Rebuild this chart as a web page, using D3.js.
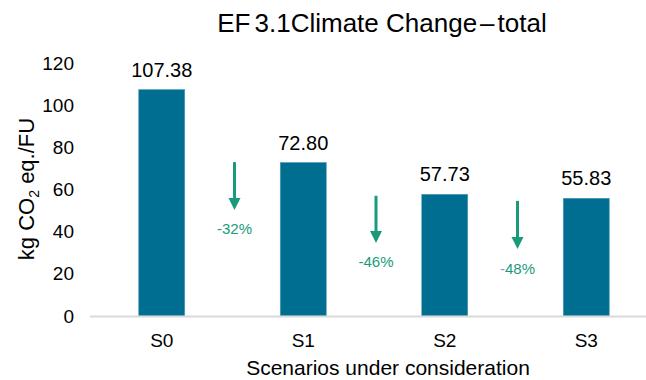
<!DOCTYPE html>
<html>
<head>
<meta charset="utf-8">
<script src="https://cdn.jsdelivr.net/npm/d3@7"></script>
<style>
  html, body { margin: 0; padding: 0; background: #fff; }
  svg { display: block; }
  text { font-family: "Liberation Sans", Arial, sans-serif; }
</style>
</head>
<body>
<svg id="chart" width="646" height="380"></svg>
<script>
// ---- data ----
const categories = ["S0", "S1", "S2", "S3"];
const values = [107.38, 72.80, 57.73, 55.83];
const valueLabels = ["107.38", "72.80", "57.73", "55.83"];
const yTicks = [0, 20, 40, 60, 80, 100, 120];
const reductionLabels = ["-32%", "-46%", "-48%"];
const arrowTop = [73, 57, 54.6];      // arrow start (data units)
const arrowTip = [50.3, 34.6, 31.8];  // arrow tip (data units)
const labelAt = [38.9, 23.2, 19.9];   // label baseline (data units)
const titleParts = ["EF", "3.1Climate Change", "\u2013", "total"];
const xTitle = "Scenarios under consideration";

// ---- layout ----
const svg = d3.select("#chart");
const barColor = "#006e91";
const green = "#1b9a7b";

const x = d3.scaleBand()
  .domain(categories)
  .range([91, 657])
  .paddingInner(0.675)
  .paddingOuter(0.3375)
  .align(0.5);

const y = d3.scaleLinear().domain([0, 120]).range([316, 63]);

// title
const title = svg.append("text")
  .attr("x", 382).attr("y", 32)
  .attr("text-anchor", "middle")
  .attr("font-size", 26)
  .attr("fill", "#000");
title.append("tspan").text(titleParts[0]);
title.append("tspan").attr("dx", 4).text(titleParts[1]);
title.append("tspan").attr("dx", 3).text(titleParts[2]);
title.append("tspan").attr("dx", 3).text(titleParts[3]);

// y axis (labels only)
const yAxis = d3.axisLeft(y).tickValues(yTicks).tickSize(0).tickPadding(16)
  .tickFormat(d3.format("d"));
const yG = svg.append("g").attr("transform", "translate(90,0)").call(yAxis);
yG.select(".domain").remove();
yG.selectAll("text")
  .attr("font-size", 19)
  .attr("fill", "#000")
  .style("font-family", "'Liberation Sans', Arial, sans-serif");

// bars
svg.append("g").selectAll("rect")
  .data(values)
  .join("rect")
  .attr("x", (d, i) => x(categories[i]))
  .attr("y", d => y(d))
  .attr("width", x.bandwidth())
  .attr("height", d => y(0) - y(d))
  .attr("fill", barColor)
  .attr("stroke", "#4f9cb9")
  .attr("stroke-width", 0.6);

// value labels
svg.append("g").selectAll("text")
  .data(values)
  .join("text")
  .attr("x", (d, i) => x(categories[i]) + x.bandwidth() / 2)
  .attr("y", d => y(d) - 13)
  .attr("text-anchor", "middle")
  .attr("font-size", 20)
  .attr("fill", "#000")
  .text((d, i) => valueLabels[i]);

// x axis
const xAxis = d3.axisBottom(x).tickSize(0).tickPadding(18);
const xG = svg.append("g").attr("transform", `translate(0,${y(0)})`).call(xAxis);
xG.select(".domain").remove();
xG.selectAll("text")
  .attr("font-size", 19)
  .attr("fill", "#000")
  .style("font-family", "'Liberation Sans', Arial, sans-serif");
svg.append("line")
  .attr("x1", 90).attr("x2", 646)
  .attr("y1", y(0) + 0.5).attr("y2", y(0) + 0.5)
  .attr("stroke", "#d9d9d9").attr("stroke-width", 2);

// x title
svg.append("text")
  .attr("x", 388).attr("y", 375)
  .attr("text-anchor", "middle")
  .attr("font-size", 21)
  .attr("fill", "#000")
  .text(xTitle);

// y title
const yt = svg.append("text")
  .attr("transform", "translate(34,189) rotate(-90)")
  .attr("text-anchor", "middle")
  .attr("font-size", 22)
  .attr("fill", "#000");
yt.append("tspan").text("kg CO");
yt.append("tspan").attr("font-size", 14).attr("dy", 5).text("2");
yt.append("tspan").attr("dy", -5).text(" eq./FU");

// arrows
const ax = i => (x(categories[i]) + x(categories[i + 1]) + x.bandwidth()) / 2 + 2;
const arrows = svg.append("g");
reductionLabels.forEach((lab, i) => {
  const cx = ax(i);
  const y0 = y(arrowTop[i]), y1 = y(arrowTip[i]);
  arrows.append("line")
    .attr("x1", cx).attr("x2", cx)
    .attr("y1", y0).attr("y2", y1 - 10)
    .attr("stroke", green).attr("stroke-width", 3);
  arrows.append("path")
    .attr("d", `M${cx - 6},${y1 - 12} L${cx + 6},${y1 - 12} L${cx},${y1} Z`)
    .attr("fill", green);
  const t = arrows.append("text")
    .attr("x", cx).attr("y", y(labelAt[i]))
    .attr("text-anchor", "middle")
    .attr("font-size", 15)
    .attr("fill", green);
  t.append("tspan").attr("fill", i === 2 ? "#6fa3d4" : green).text(lab.slice(0, 1));
  t.append("tspan").text(lab.slice(1));
});
</script>
</body>
</html>
